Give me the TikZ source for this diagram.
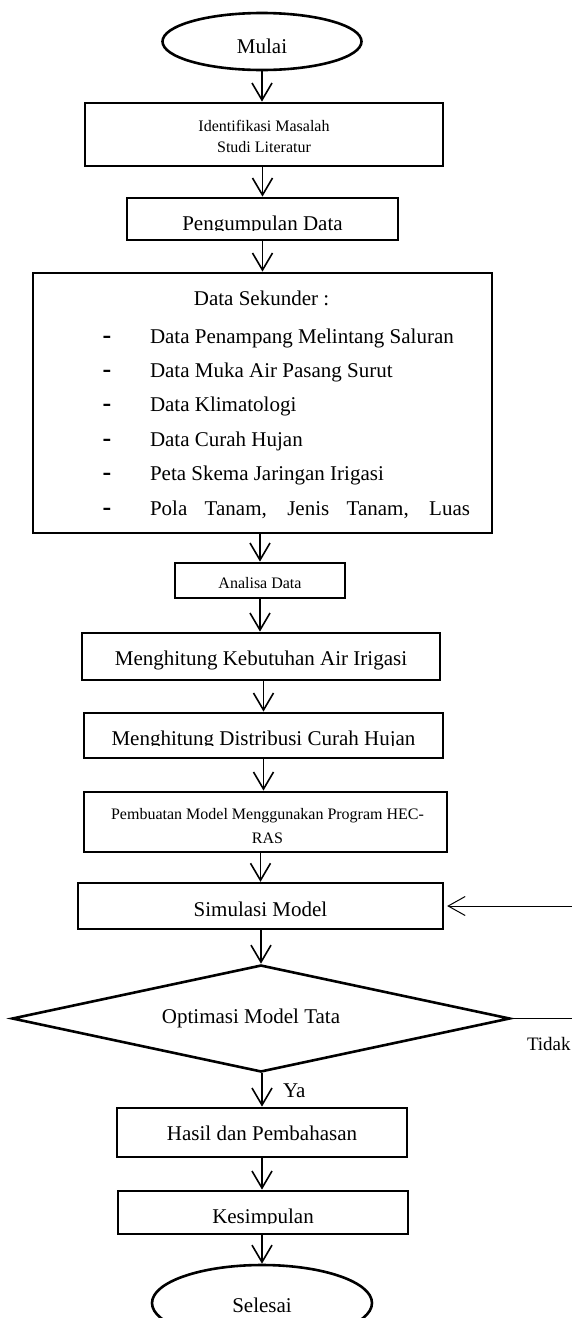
\documentclass[tikz,border=0pt]{standalone}
\usepackage{fontspec}
\setmainfont{Liberation Serif}
\usetikzlibrary{shapes.geometric,arrows.meta}
\newcommand{\FBig}{\fontsize{21}{24}\selectfont}
\newcommand{\FSmall}{\fontsize{16}{21}\selectfont}
\newcommand{\FTidak}{\fontsize{19}{22}\selectfont}
\newcommand{\FDash}{\fontsize{26}{26}\selectfont}
\begin{document}
\begin{tikzpicture}[x=1pt,y=-1pt,
  box/.style={draw, line width=2.8pt, rectangle, inner sep=0pt},
  oval/.style={draw, line width=2.6pt, ellipse, inner sep=0pt},
  txt/.style={inner sep=0pt, outer sep=0pt, minimum width=0pt, minimum height=0pt, draw=none, fill=none, rectangle},
  arr/.style={line width=1.6pt, -{Straight Barb[length=17pt,width=20pt]}},
  thinarr/.style={line width=1pt},
]
\path[use as bounding box, fill=white] (0,0) rectangle (572,1318);

% Mulai
\node[oval, minimum width=199pt, minimum height=57pt,
  path picture={\node[txt, font=\FBig, anchor=base] (t0) at ([yshift=16.7pt]path picture bounding box.south) {Mulai};}] (e1) at (262,41.5) {};

% Identifikasi
\node[box, minimum width=358pt, minimum height=63pt,
  path picture={
    \node[txt, font=\FSmall, anchor=base] (t1a) at ([yshift=34.3pt]path picture bounding box.south) {Identifikasi Masalah};
    \node[txt, font=\FSmall, anchor=base] (t1b) at ([yshift=13.3pt]path picture bounding box.south) {Studi Literatur};}] (b1) at (264,134.5) {};

% Pengumpulan Data
\node[box, minimum width=271pt, minimum height=42pt,
  path picture={
    \clip ([yshift=9.5pt]path picture bounding box.south west) rectangle (path picture bounding box.north east);
    \node[txt, font=\FBig, anchor=base] (t2) at ([yshift=10pt]path picture bounding box.south) {Pengumpulan Data};}] (b2) at (262.5,219) {};

% Data Sekunder
\node[box, minimum width=459pt, minimum height=260pt] (b3) at (262.5,403) {};
\node[txt, font=\FBig, anchor=base] (h3) at (261.5,305) {Data Sekunder :};
\node[txt, font=\FDash, anchor=base] (s1) at (107,343) {\textbf{-}};
\node[txt, font=\FDash, anchor=base] (s2) at (107,377.4) {\textbf{-}};
\node[txt, font=\FDash, anchor=base] (s3) at (107,411.8) {\textbf{-}};
\node[txt, font=\FDash, anchor=base] (s4) at (107,446.2) {\textbf{-}};
\node[txt, font=\FDash, anchor=base] (s5) at (107,480.6) {\textbf{-}};
\node[txt, font=\FDash, anchor=base] (s6) at (107,515) {\textbf{-}};
\node[txt, font=\FBig, anchor=base west] (i1) at (150,343) {Data Penampang Melintang Saluran};
\node[txt, font=\FBig, anchor=base west] (i2) at (150,377.4) {Data Muka Air Pasang Surut};
\node[txt, font=\FBig, anchor=base west] (i3) at (150,411.8) {Data Klimatologi};
\node[txt, font=\FBig, anchor=base west] (i4) at (150,446.2) {Data Curah Hujan};
\node[txt, font=\FBig, anchor=base west] (i5) at (150,480.6) {Peta Skema Jaringan Irigasi};
\node[txt, font=\FBig, anchor=base west] (i6) at (150,515) {\makebox[320pt][s]{Pola Tanam, Jenis Tanam, Luas}};

% Analisa Data
\node[box, minimum width=170pt, minimum height=35pt,
  path picture={
    \clip ([yshift=10pt]path picture bounding box.south west) rectangle (path picture bounding box.north east);
    \node[txt, font=\FSmall, anchor=base] (t4) at ([yshift=9.5pt]path picture bounding box.south) {Analisa Data};}] (b4) at (260,580.5) {};

% Kebutuhan Air
\node[box, minimum width=358pt, minimum height=47pt,
  path picture={
    \node[txt, font=\FBig, anchor=base] (t5) at ([yshift=15pt]path picture bounding box.south) {Menghitung Kebutuhan Air Irigasi};}] (b5) at (261,656.5) {};

% Distribusi
\node[box, minimum width=359pt, minimum height=45pt,
  path picture={
    \clip ([yshift=12.5pt]path picture bounding box.south west) rectangle (path picture bounding box.north east);
    \node[txt, font=\FBig, anchor=base] (t6) at ([yshift=13pt]path picture bounding box.south) {Menghitung Distribusi Curah Hujan};}] (b6) at (263.5,735.5) {};

% Pembuatan Model
\node[box, minimum width=363pt, minimum height=60pt,
  path picture={
    \node[txt, font=\FSmall, anchor=base] (t7a) at ([xshift=2pt,yshift=33pt]path picture bounding box.south) {Pembuatan Model Menggunakan Program HEC-};
    \node[txt, font=\FSmall, anchor=base] (t7b) at ([xshift=2pt,yshift=9pt]path picture bounding box.south) {RAS};}] (b7) at (265.5,822) {};

% Simulasi
\node[box, line width=2.3pt, minimum width=365pt, minimum height=46pt,
  path picture={
    \node[txt, font=\FBig, anchor=base] (t8) at ([yshift=13pt]path picture bounding box.south) {Simulasi Model};}] (b8) at (260.5,906) {};

% Decision
\node[draw, line width=2.6pt, diamond, inner sep=0pt, minimum width=498pt, minimum height=107pt,
  path picture={
    \node[txt, font=\FBig, anchor=base] (td) at ([xshift=-10pt,yshift=48pt]path picture bounding box.south) {Optimasi Model Tata};}] (d) at (261,1018.5) {};

% Hasil
\node[box, minimum width=290pt, minimum height=49pt,
  path picture={
    \node[txt, font=\FBig, anchor=base] (t9) at ([yshift=17pt]path picture bounding box.south) {Hasil dan Pembahasan};}] (b9) at (262,1132.5) {};

% Kesimpulan
\node[box, minimum width=290pt, minimum height=43pt,
  path picture={
    \clip ([yshift=10.5pt]path picture bounding box.south west) rectangle (path picture bounding box.north east);
    \node[txt, font=\FBig, anchor=base] (t10) at ([yshift=11pt]path picture bounding box.south) {Kesimpulan};}] (b10) at (263,1212.5) {};

% Selesai
\node[oval, minimum width=220pt, minimum height=76pt,
  path picture={
    \clip ([yshift=28pt]path picture bounding box.south west) rectangle (path picture bounding box.north east);
    \node[txt, font=\FBig, anchor=base] (t11) at ([yshift=28.5pt]path picture bounding box.south) {Selesai};}] (e2) at (262,1303) {};

% labels
\node[txt, font=\FTidak, anchor=base west] (tno) at (527,1050) {Tidak};
\node[txt, font=\FBig, anchor=base west] (tya) at (283,1097) {Ya};

% connectors
\draw[arr] (e1.south) -- (e1.south |- b1.north);
\draw[arr] (b1.south -| b2.north) -- (b2.north);
\draw[arr] (b2.south) -- (b2.south |- b3.north);
\draw[arr] (b3.south -| b4.north) -- (b4.north);
\draw[arr] (b4.south) -- (b4.south |- b5.north);
\draw[arr] (b5.south -| b6.north) -- (b6.north);
\draw[arr] (b6.south) -- (b6.south |- b7.north);
\draw[arr] (b7.south -| b8.north) -- (b8.north);
\draw[arr] (b8.south -| d.north) -- (d.north);
\draw[arr] (d.south -| b9.north) -- (b9.north);
\draw[arr] (b9.south) -- (b9.south |- b10.north);
\draw[arr] (b10.south -| e2.north) -- (e2.north);

\coordinate (r1) at (572,906);
\coordinate (r2) at (572,1018.5);
\draw[thinarr, -{Straight Barb[length=17pt,width=19pt]}, shorten >=3pt] (r1) -- (b8.east);
\draw[thinarr] (d.east) -- (r2);
\end{tikzpicture}
\end{document}
